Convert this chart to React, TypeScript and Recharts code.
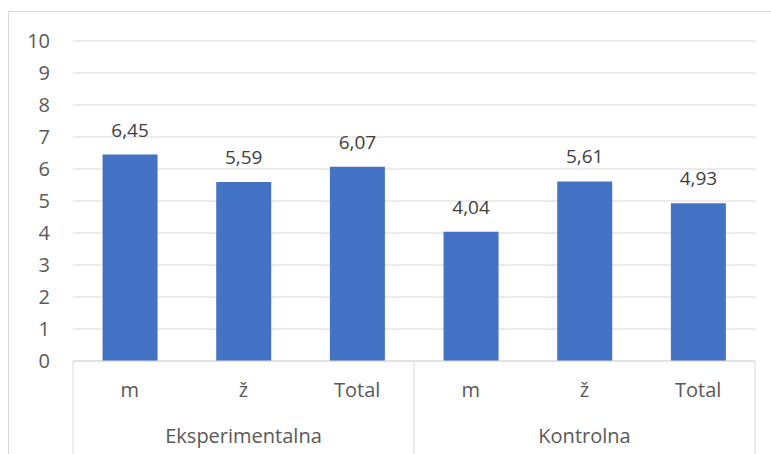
import { BarChart, Bar, XAxis, YAxis, CartesianGrid, LabelList } from 'recharts'

const groups = ['Eksperimentalna', 'Kontrolna']
const subCategories = ['m', 'ž', 'Total']
const experimentalValues = [6.45, 5.59, 6.07]
const controlValues = [4.04, 5.61, 4.93]
const yTicks = [0, 1, 2, 3, 4, 5, 6, 7, 8, 9, 10]

const data = [
  ...subCategories.map((s, i) => ({ sub: s, group: groups[0], value: experimentalValues[i] })),
  ...subCategories.map((s, i) => ({ sub: s, group: groups[1], value: controlValues[i] })),
]

const W = 771
const H = 454
const FONT = '"Open Sans", sans-serif'
const FS = 19
const AXIS_FS = 20
const GRID = '#d9d9d9'
const TEXT = '#595959'

const PLOT_LEFT = 73
const PLOT_RIGHT = 755
const BAND = (PLOT_RIGHT - PLOT_LEFT) / data.length

const CategoryTick = (props: any) => {
  const { x, y, index } = props
  const row = data[index]
  if (!row) return null
  const n = subCategories.length
  const isFirst = index % n === 0
  const isMiddle = index % n === Math.floor(n / 2)
  const isLastOverall = index === data.length - 1
  return (
    <g>
      <text x={x} y={y + 36} textAnchor="middle" fill={TEXT} fontSize={AXIS_FS} fontFamily={FONT}>
        {row.sub}
      </text>
      {isMiddle && (
        <text x={x} y={y + 82} textAnchor="middle" fill={TEXT} fontSize={AXIS_FS} fontFamily={FONT}>
          {row.group}
        </text>
      )}
      {isFirst && <line x1={x - BAND / 2} x2={x - BAND / 2} y1={y} y2={y + 100} stroke={GRID} />}
      {isLastOverall && <line x1={x + BAND / 2} x2={x + BAND / 2} y1={y} y2={y + 100} stroke={GRID} />}
    </g>
  )
}

export default function App() {
  return (
    <div style={{ position: 'absolute', left: 0, top: 0, width: W, height: H, overflow: 'hidden', background: '#fff' }}>
      <div
        style={{
          position: 'absolute',
          left: 8,
          top: 11,
          width: 800,
          height: 500,
          border: `1px solid ${GRID}`,
          boxSizing: 'border-box',
        }}
      />
      <div style={{ position: 'absolute', left: 0, top: 0 }}>
        <BarChart
          width={W}
          height={H}
          data={data}
          margin={{ top: 41, right: W - PLOT_RIGHT, bottom: 0, left: PLOT_LEFT - 45 }}
          barCategoryGap="26%"
        >
          <CartesianGrid vertical={false} stroke={GRID} strokeWidth={1} />
          <XAxis
            dataKey="sub"
            interval={0}
            height={H - 361}
            axisLine={{ stroke: GRID }}
            tickLine={false}
            tickSize={0}
            tickMargin={0}
            tick={<CategoryTick />}
          />
          <YAxis
            width={45}
            domain={[0, 10]}
            ticks={yTicks}
            interval={0}
            axisLine={false}
            tickLine={false}
            tickSize={0}
            tickMargin={23}
            tick={{ fill: TEXT, fontSize: AXIS_FS, fontFamily: FONT }}
          />
          <Bar dataKey="value" fill="#4472c4" isAnimationActive={false}>
            <LabelList
              dataKey="value"
              position="top"
              offset={18}
              fill="#404040"
              fontSize={FS}
              fontFamily={FONT}
              formatter={(v: any) => Number(v).toFixed(2).replace('.', ',')}
            />
          </Bar>
        </BarChart>
      </div>
    </div>
  )
}
